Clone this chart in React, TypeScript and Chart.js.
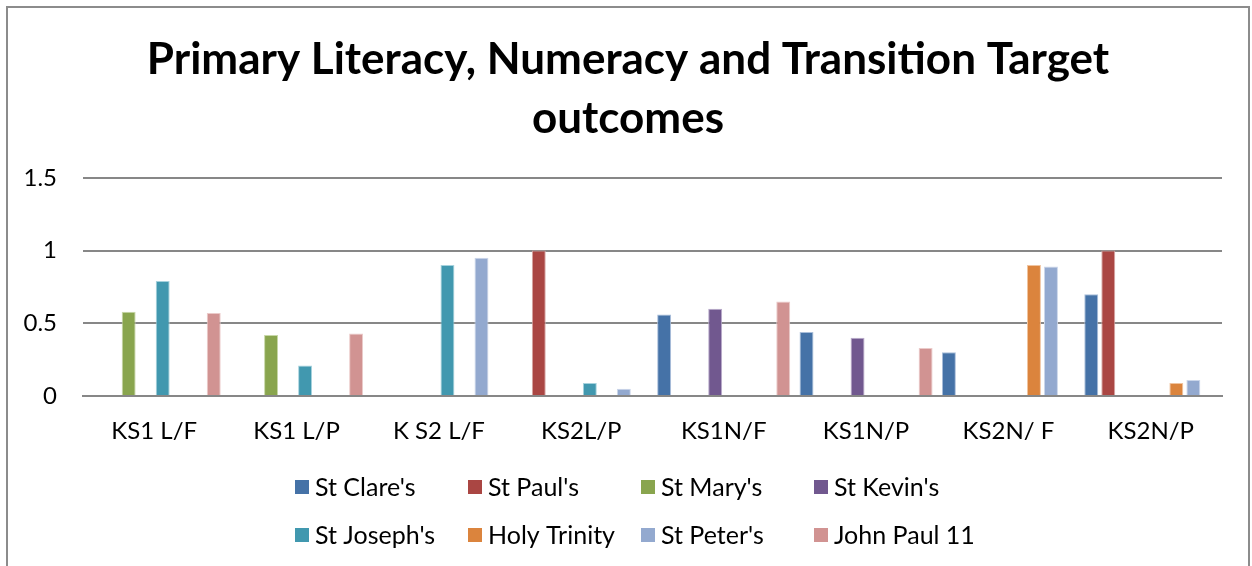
import React, { useEffect, useRef } from "react";
import { Chart, registerables } from "chart.js";

Chart.register(...registerables);

const TITLE_LINES = ["Primary Literacy, Numeracy and Transition Target", "outcomes"];

const CATEGORIES = ["KS1 L/F", "KS1 L/P", "K S2 L/F", "KS2L/P", "KS1N/F", "KS1N/P", "KS2N/ F", "KS2N/P"];

const SERIES_NAMES = ["St Clare's", "St Paul's", "St Mary's", "St Kevin's", "St Joseph's", "Holy Trinity", "St Peter's", "John Paul 11"];

const ST_CLARES = [null, null, null, null, 0.56, 0.44, 0.3, 0.7];
const ST_PAULS = [null, null, null, 1.0, null, null, null, 1.0];
const ST_MARYS = [0.58, 0.42, null, null, null, null, null, null];
const ST_KEVINS = [null, null, null, null, 0.6, 0.4, null, null];
const ST_JOSEPHS = [0.79, 0.21, 0.9, 0.09, null, null, null, null];
const HOLY_TRINITY = [null, null, null, null, null, null, 0.9, 0.09];
const ST_PETERS = [null, null, 0.95, 0.05, null, null, 0.89, 0.11];
const JOHN_PAUL_11 = [0.57, 0.43, null, null, 0.65, 0.33, null, null];

const SERIES_VALUES = [ST_CLARES, ST_PAULS, ST_MARYS, ST_KEVINS, ST_JOSEPHS, HOLY_TRINITY, ST_PETERS, JOHN_PAUL_11];

const COLORS = ["#4572A7", "#AA4643", "#89A54E", "#71588F", "#4198AF", "#DB843D", "#93A9CF", "#D19392"];
const EDGE_COLORS = ["#A9BEDA", "#D9A8A6", "#C8D8A8", "#B9ABCB", "#A6D2DD", "#F0C4A0", "#CBD6EA", "#EBCAC9"];

const Y_TICKS = [0, 0.5, 1, 1.5];

const FONT = "Lato, 'Open Sans', sans-serif";

const gridLegend = {
  id: "gridLegend",
  afterDraw(chart: any) {
    const ctx = chart.ctx;
    const area = chart.chartArea;
    const x0 = 287;
    const colW = 173;
    const y0 = area.bottom + 91;
    const rowH = 48;
    ctx.save();
    ctx.font = `25px ${FONT}`;
    ctx.textBaseline = "middle";
    ctx.textAlign = "left";
    chart.data.datasets.forEach((ds: any, i: number) => {
      const col = i % 4;
      const row = Math.floor(i / 4);
      const x = x0 + col * colW;
      const y = y0 + row * rowH;
      ctx.fillStyle = ds.backgroundColor;
      ctx.fillRect(x, y - 7, 14, 14);
      ctx.fillStyle = "#000";
      ctx.fillText(ds.label, x + 20, y + 1);
    });
    ctx.restore();
  },
};

export default function App() {
  const ref = useRef<HTMLCanvasElement>(null);

  useEffect(() => {
    if (!ref.current) return;
    const chart = new Chart(ref.current, {
      type: "bar",
      data: {
        labels: CATEGORIES,
        datasets: SERIES_NAMES.map((name, i) => ({
          label: name,
          data: SERIES_VALUES[i],
          backgroundColor: COLORS[i],
          borderColor: EDGE_COLORS[i],
          borderWidth: 1,
          categoryPercentage: 0.956,
          barPercentage: 0.82,
        })),
      },
      options: {
        responsive: false,
        animation: false,
        devicePixelRatio: 1,
        layout: { padding: { left: 0, right: 0, top: 0, bottom: 112 } },
        plugins: {
          legend: { display: false },
          tooltip: { enabled: false },
          title: {
            display: true,
            text: TITLE_LINES,
            color: "#000",
            font: { family: FONT, size: 44, weight: "bold", lineHeight: 1.35 },
            padding: { top: 22, bottom: 29 },
          },
        },
        scales: {
          x: {
            grid: { display: false, drawTicks: false },
            border: { display: true, color: "#878787", width: 2 },
            ticks: {
              color: "#000",
              font: { family: FONT, size: 24 },
              padding: 21,
              maxRotation: 0,
              autoSkip: false,
            },
            afterFit(scale: any) {
              scale.height = 60;
            },
          },
          y: {
            min: 0,
            max: 1.5,
            afterBuildTicks(scale: any) {
              scale.ticks = Y_TICKS.map((v) => ({ value: v }));
            },
            grid: { color: "#878787", lineWidth: 2, drawTicks: false },
            border: { display: false },
            ticks: {
              color: "#000",
              font: { family: FONT, size: 24 },
              padding: 26,
              callback: (v: any) => String(v),
            },
            afterFit(scale: any) {
              scale.width = 75;
            },
          },
          yRightSpacer: {
            type: "linear",
            position: "right",
            display: true,
            min: 0,
            max: 1.5,
            grid: { display: false, drawOnChartArea: false, drawTicks: false },
            border: { display: false },
            ticks: { display: false },
            afterFit(scale: any) {
              scale.width = 26;
            },
          },
        },
      },
      plugins: [gridLegend],
    });
    return () => chart.destroy();
  }, []);

  return (
    <div
      style={{
        position: "fixed",
        left: 6,
        top: 6,
        width: 1240,
        height: 620,
        border: "2px solid #8c8c8c",
        background: "#fff",
      }}
    >
      <canvas ref={ref} width={1240} height={560} style={{ display: "block" }} />
    </div>
  );
}
